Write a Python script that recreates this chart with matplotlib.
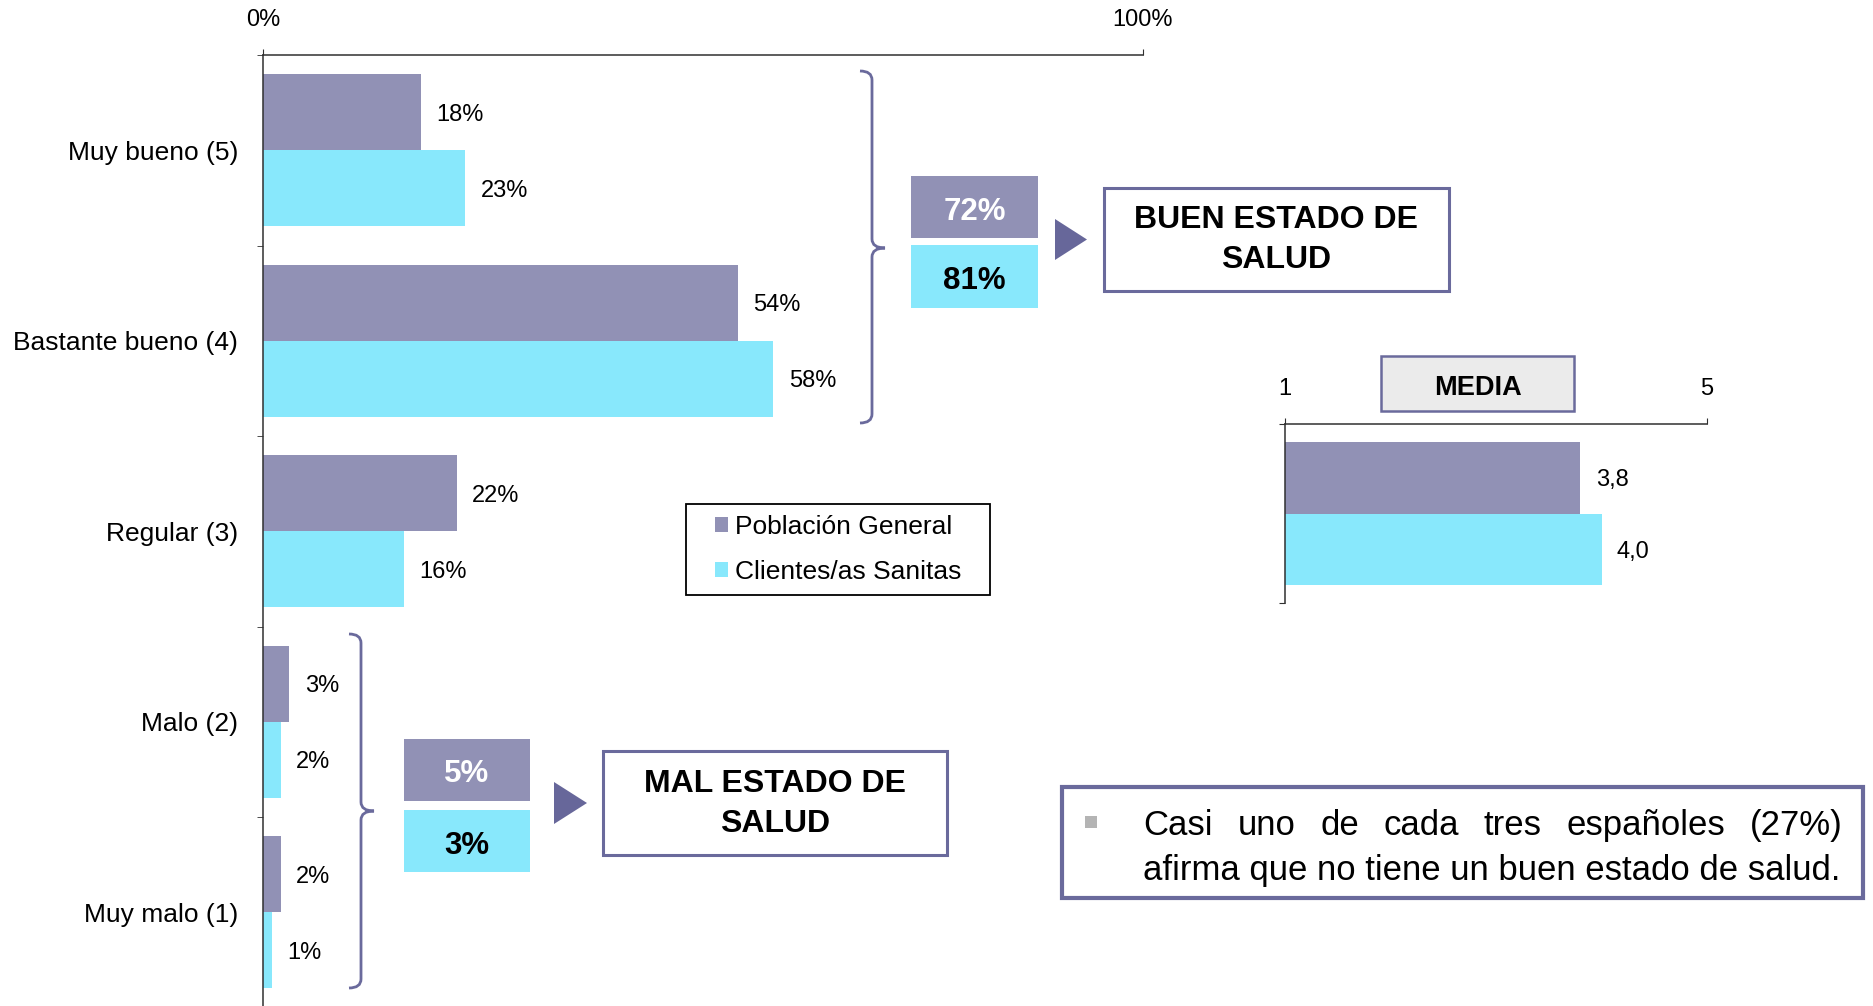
import numpy as np
import matplotlib
matplotlib.use('Agg')
import matplotlib.pyplot as plt
from matplotlib import font_manager
from matplotlib.patches import Rectangle, Polygon, PathPatch
from matplotlib.path import Path

# datos
categorias = ['Muy bueno (5)', 'Bastante bueno (4)', 'Regular (3)', 'Malo (2)', 'Muy malo (1)']
poblacion = [18, 54, 22, 3, 2]
sanitas = [23, 58, 16, 2, 1]
series = ['Población General', 'Clientes/as Sanitas']
ticks_pct = ['0%', '100%']
media_pob = 3.8
media_san = 4.0
ticks_media = [1, 5]
texto_1 = 'Casi uno de cada tres españoles (27%)'
texto_2 = 'afirma que no tiene un buen estado de salud.'

C_POB = '#9191B5'
C_SAN = '#88E8FC'
C_LINE = '#6A6A9C'

nombres = {f.name for f in font_manager.fontManager.ttflist}
SANS = 'Liberation Sans'
NARROW = 'Liberation Sans Narrow' if 'Liberation Sans Narrow' in nombres else SANS
plt.rcParams['font.family'] = [SANS, 'DejaVu Sans']

W, H = 1873, 1006
fig = plt.figure(figsize=(W / 100, H / 100), dpi=100)


def fx(x):
    return x / W


def fy(y):
    return 1 - y / H


# grafico principal
ax = fig.add_axes([fx(263), fy(1007.5), fx(1143) - fx(263), (1007.5 - 55) / H])
y = np.arange(len(categorias))
b1 = ax.barh(y - 0.2, poblacion, 0.4, color=C_POB)
b2 = ax.barh(y + 0.2, sanitas, 0.4, color=C_SAN)
ax.set_xlim(0, 100)
ax.set_ylim(len(categorias) - 0.5, -0.5)
for barras, vals in ((b1, poblacion), (b2, sanitas)):
    for rect, v in zip(barras, vals):
        ax.annotate(f'{v}%', (rect.get_width(), rect.get_y() + rect.get_height() / 2),
                    xytext=(11, 0), textcoords='offset points', va='center_baseline',
                    ha='left', fontsize=17)
ax.spines[['right', 'bottom']].set_visible(False)
for s in ('top', 'left'):
    ax.spines[s].set_color('#303030')
    ax.spines[s].set_linewidth(1.1)
ax.xaxis.tick_top()
ax.set_xticks([0, 100], ticks_pct)
for t in ax.get_xticklabels():
    t.set_family(NARROW)
    t.set_fontsize(20 if NARROW != SANS else 17)
ax.tick_params(axis='x', length=4, pad=13, direction='out', color='#303030')
ax.set_yticks(y, categorias)
ax.tick_params(axis='y', which='major', length=0, pad=18, labelsize=19)
ax.set_yticks(np.arange(-0.5, len(categorias)), minor=True)
ax.tick_params(axis='y', which='minor', length=4, direction='out', color='#303030')

# leyenda
fig.add_artist(Rectangle((fx(686), fy(595)), fx(990) - fx(686), (595 - 504) / H,
                         transform=fig.transFigure, fc='none', ec='black', lw=1.3))
ax.legend([b1, b2], series, loc='center', bbox_to_anchor=(fx(838), fy(549.5)),
          bbox_transform=fig.transFigure, frameon=False, fontsize=19,
          handlelength=0.5, handleheight=0.5, handletextpad=0.25, labelspacing=0.78,
          borderpad=0.2)


# llaves
def llave(x, y0, y1, ym, izq, der, r=9):
    pts = [(x - izq, y0), (x, y0), (x, y0 + r), (x, ym - r), (x, ym), (x + der, ym),
           (x, ym), (x, ym + r), (x, y1 - r), (x, y1), (x - izq, y1)]
    cod = [Path.MOVETO, Path.CURVE3, Path.CURVE3, Path.LINETO, Path.CURVE3, Path.CURVE3,
           Path.CURVE3, Path.CURVE3, Path.LINETO, Path.CURVE3, Path.CURVE3]
    pts = [(fx(a), fy(b)) for a, b in pts]
    fig.add_artist(PathPatch(Path(pts, cod), transform=fig.transFigure, fill=False,
                             ec=C_LINE, lw=2))


def caja(x0, y0, x1, y1, fc, ec='none', lw=0):
    fig.add_artist(Rectangle((fx(x0), fy(y1)), fx(x1) - fx(x0), (y1 - y0) / H,
                             transform=fig.transFigure, fc=fc, ec=ec, lw=lw))


def flecha(x0, y0, x1, y1):
    fig.add_artist(Polygon([(fx(x0), fy(y0)), (fx(x0), fy(y1)), (fx(x1), fy((y0 + y1) / 2))],
                           closed=True, transform=fig.transFigure, fc='#67679A', ec='none'))


llave(872, 71, 423, 248, 12, 13)
llave(361, 634, 988, 811, 12, 13)

# resumen buen estado
buen_pob = poblacion[0] + poblacion[1]
buen_san = sanitas[0] + sanitas[1]
caja(911, 176, 1038, 238, C_POB)
caja(911, 245, 1038, 308, C_SAN)
fig.text(fx(974.5), fy(208), f'{buen_pob}%', color='white', fontsize=22.5, weight='bold',
         ha='center', va='center_baseline')
fig.text(fx(974.5), fy(277.5), f'{buen_san}%', color='black', fontsize=22.5, weight='bold',
         ha='center', va='center_baseline')
flecha(1055, 219, 1087, 260)
caja(1104, 188, 1449, 291, 'white', ec=C_LINE, lw=2.2)
fig.text(fx(1276.5), fy(240), 'BUEN ESTADO DE\nSALUD', fontsize=23, weight='bold',
         ha='center', va='center', linespacing=1.45)

# resumen mal estado
mal_pob = poblacion[3] + poblacion[4]
mal_san = sanitas[3] + sanitas[4]
caja(404, 739, 530, 801, C_POB)
caja(404, 810, 530, 872, C_SAN)
fig.text(fx(467), fy(771), f'{mal_pob}%', color='white', fontsize=22.5, weight='bold',
         ha='center', va='center_baseline')
fig.text(fx(467), fy(842), f'{mal_san}%', color='black', fontsize=22.5, weight='bold',
         ha='center', va='center_baseline')
flecha(554, 782, 587, 824)
caja(603, 751, 947, 855, 'white', ec=C_LINE, lw=2.2)
fig.text(fx(775), fy(804), 'MAL ESTADO DE\nSALUD', fontsize=23, weight='bold',
         ha='center', va='center', linespacing=1.45)

# media
axm = fig.add_axes([fx(1285), fy(603), fx(1707) - fx(1285), (603 - 424) / H])
bm1 = axm.barh([0], [media_pob - 1], left=1, height=1, color=C_POB)
bm2 = axm.barh([1], [media_san - 1], left=1, height=1, color=C_SAN)
axm.set_xlim(ticks_media[0], ticks_media[1])
axm.set_ylim(1.76, -0.76)
for rect, v in ((bm1[0], media_pob), (bm2[0], media_san)):
    axm.annotate(f'{v:.1f}'.replace('.', ','), (v, rect.get_y() + rect.get_height() / 2),
                 xytext=(11, 0), textcoords='offset points', va='center_baseline',
                 ha='left', fontsize=17)
axm.spines[['right', 'bottom']].set_visible(False)
for s in ('top', 'left'):
    axm.spines[s].set_color('#303030')
    axm.spines[s].set_linewidth(1.1)
axm.xaxis.tick_top()
axm.set_xticks(ticks_media, [str(t) for t in ticks_media])
axm.tick_params(axis='x', length=4, pad=13, labelsize=17, color='#303030')
axm.set_yticks([-0.76, 1.76], ['', ''])
axm.tick_params(axis='y', length=4, color='#303030')
caja(1381, 356, 1574, 411, '#EBEBEB', ec=C_LINE, lw=1.8)
fig.text(fx(1477.5), fy(384.5), 'MEDIA', fontsize=19.5, weight='bold', ha='center',
         va='center_baseline')

# cuadro de texto
caja(1062, 787, 1863, 898, 'white', ec=C_LINE, lw=3)
caja(1085, 816, 1097, 828, '#B4B4B4')
x_izq, x_der = 1143, 1843
linea2 = fig.text(fx(x_izq), fy(867), texto_2, fontsize=25, family=NARROW,
                  ha='left', va='center_baseline')
fig.canvas.draw()
r = fig.canvas.get_renderer()
fs = 25 * (x_der - 3 - x_izq) / linea2.get_window_extent(r).width
linea2.set_fontsize(fs)
palabras = texto_1.split()
objs = [fig.text(0, fy(822), p, fontsize=fs, family=NARROW, ha='left',
                 va='center_baseline') for p in palabras]
fig.canvas.draw()
anchos = [t.get_window_extent(r).width for t in objs]
hueco = (x_der - x_izq - sum(anchos)) / (len(palabras) - 1)
x = x_izq
for t, a in zip(objs, anchos):
    t.set_x(fx(x))
    x += a + hueco

fig.savefig('out.png', dpi=100)
